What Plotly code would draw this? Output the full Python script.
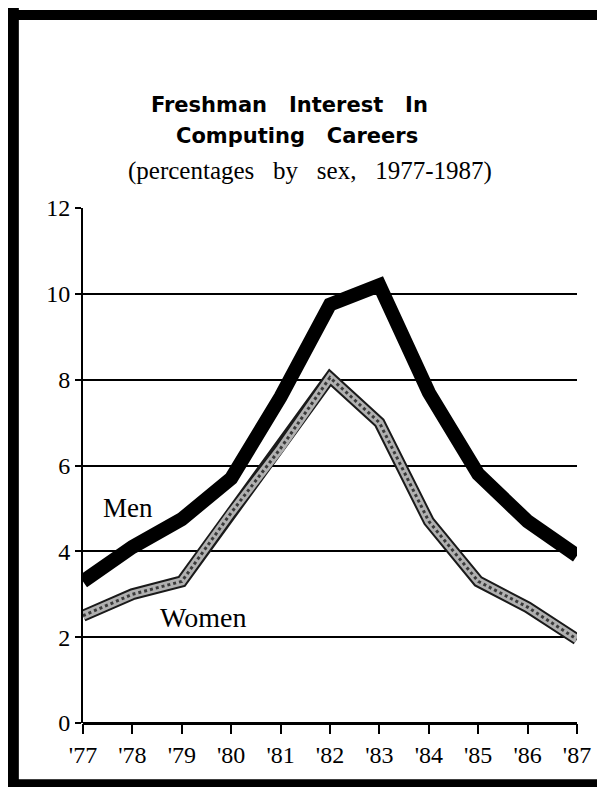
import plotly.graph_objects as go

# data
years = ["'77", "'78", "'79", "'80", "'81", "'82", "'83", "'84", "'85", "'86", "'87"]
men = [3.3, 4.1, 4.75, 5.7, 7.6, 9.75, 10.2, 7.7, 5.8, 4.7, 3.9]
women = [2.5, 3.0, 3.3, 4.9, 6.4, 8.05, 7.0, 4.7, 3.3, 2.7, 1.95]

serif = "Liberation Serif"
sans = "DejaVu Sans"

fig = go.Figure()

# women: stippled grey band -> dark outline, grey fill, dotted texture
fig.add_trace(go.Scatter(x=years, y=women, mode="lines",
                         line=dict(color="#1a1a1a", width=12), hoverinfo="skip"))
fig.add_trace(go.Scatter(x=years, y=women, mode="lines",
                         line=dict(color="#b0b0b0", width=8), hoverinfo="skip"))
fig.add_trace(go.Scatter(x=years, y=women, mode="lines",
                         line=dict(color="#3a3a3a", width=3, dash="dot"), hoverinfo="skip"))
# men: thick black
fig.add_trace(go.Scatter(x=years, y=men, mode="lines",
                         line=dict(color="black", width=14), hoverinfo="skip"))

fig.add_annotation(x=0.91, y=5.0, text="Men", showarrow=False, xanchor="center",
                   yanchor="middle", font=dict(family=serif, size=27, color="black"))
fig.add_annotation(x=2.42, y=2.45, text="Women", showarrow=False, xanchor="center",
                   yanchor="middle", font=dict(family=serif, size=28, color="black"))

# titles
fig.add_annotation(xref="paper", yref="paper", x=0.419, y=1.2, yanchor="middle",
                   text="Freshman   Interest   In", showarrow=False,
                   font=dict(family=sans, size=21, color="black", weight="bold"))
fig.add_annotation(xref="paper", yref="paper", x=0.433, y=1.14, yanchor="middle",
                   text="Computing   Careers", showarrow=False,
                   font=dict(family=sans, size=21, color="black", weight="bold"))
fig.add_annotation(xref="paper", yref="paper", x=0.46, y=1.072, yanchor="middle",
                   text="(percentages   by   sex,   1977-1987)", showarrow=False,
                   font=dict(family=serif, size=25, color="black"))

# scanned page frame
frame = dict(type="line", xref="paper", yref="paper", line=dict(color="black"))
fig.add_shape(**frame, x0=-0.141, x1=-0.141, y0=1.39, y1=-0.12, line_width=11)
fig.add_shape(**frame, x0=-0.152, x1=1.08, y0=1.375, y1=1.375, line_width=10)
fig.add_shape(**frame, x0=-0.152, x1=1.08, y0=-0.118, y1=-0.118, line_width=9)

fig.update_layout(
    width=605, height=787,
    margin=dict(l=75, r=36, t=200, b=72),
    paper_bgcolor="white", plot_bgcolor="white",
    showlegend=False,
    font=dict(family=serif, size=22, color="black"),
    xaxis=dict(type="category", range=[0, 10], tickmode="array",
               tickvals=years, ticktext=years,
               showgrid=False, zeroline=False, showline=False,
               ticks="outside", ticklen=10, tickwidth=2, tickcolor="black",
               tickfont=dict(family=serif, size=24)),
    yaxis=dict(range=[0, 12], dtick=2, showgrid=True, gridcolor="black", gridwidth=2,
               zeroline=True, zerolinecolor="black", zerolinewidth=3,
               showline=True, linecolor="black", linewidth=2,
               ticks="outside", ticklen=6, tickwidth=2, tickcolor="black",
               tickfont=dict(family=serif, size=24)),
)

fig.write_html("out.html")
